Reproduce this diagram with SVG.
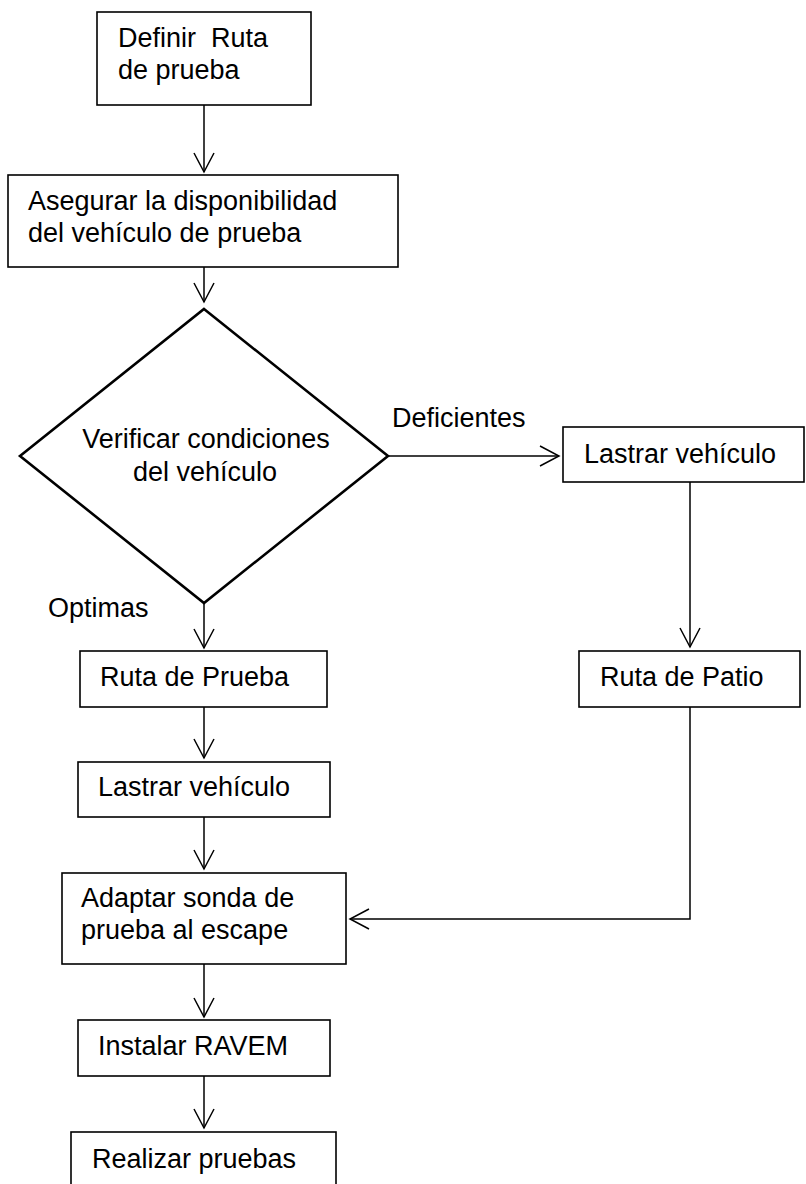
<svg xmlns="http://www.w3.org/2000/svg" width="806" height="1184" viewBox="0 0 806 1184">
<defs>
<style>
.box{fill:#fff;stroke:#000;stroke-width:1.6}
.dia{fill:#fff;stroke:#000;stroke-width:2.6}
.t{font-family:"Liberation Sans",Arial,Helvetica,sans-serif;font-size:27px;fill:#000}
.c{fill:none;stroke:#000;stroke-width:1.5}
</style>
<marker id="arr" viewBox="0 0 22 22" refX="20" refY="11" markerWidth="22" markerHeight="22" markerUnits="userSpaceOnUse" orient="auto">
<path d="M1,1 L20,11 L1,21" fill="none" stroke="#000" stroke-width="1.5"/>
</marker>
</defs>
<rect width="806" height="1184" fill="#fff"/>
<g id="connectors">
<line class="c" x1="204" y1="105" x2="204" y2="172" marker-end="url(#arr)"/>
<line class="c" x1="204" y1="267" x2="204" y2="302" marker-end="url(#arr)"/>
<line class="c" x1="388" y1="456" x2="559" y2="456" marker-end="url(#arr)"/>
<line class="c" x1="204" y1="603" x2="204" y2="648" marker-end="url(#arr)"/>
<line class="c" x1="690" y1="482" x2="690" y2="647" marker-end="url(#arr)"/>
<line class="c" x1="204" y1="707" x2="204" y2="758" marker-end="url(#arr)"/>
<line class="c" x1="204" y1="817" x2="204" y2="869" marker-end="url(#arr)"/>
<polyline class="c" points="690,707 690,919 350,919" marker-end="url(#arr)"/>
<line class="c" x1="204" y1="964" x2="204" y2="1017" marker-end="url(#arr)"/>
<line class="c" x1="204" y1="1076" x2="204" y2="1128" marker-end="url(#arr)"/>
<text class="t" x="392" y="427">Deficientes</text>
<text class="t" x="48" y="617">Optimas</text>
</g>
<g id="n1">
<rect class="box" x="97" y="12" width="214" height="93"/>
<text class="t" x="118" y="47" xml:space="preserve">Definir  Ruta</text>
<text class="t" x="118" y="79">de prueba</text>
</g>
<g id="n2">
<rect class="box" x="8" y="175" width="390" height="92"/>
<text class="t" x="28" y="210">Asegurar la disponibilidad</text>
<text class="t" x="28" y="242">del vehículo de prueba</text>
</g>
<g id="n3">
<polygon class="dia" points="204,309 388,456 204,603 20,456"/>
<text class="t" x="206" y="448" text-anchor="middle">Verificar condiciones</text>
<text class="t" x="205" y="481" text-anchor="middle">del vehículo</text>
</g>
<g id="n4">
<rect class="box" x="563" y="427" width="241" height="55"/>
<text class="t" x="584" y="463">Lastrar vehículo</text>
</g>
<g id="n5">
<rect class="box" x="80" y="651" width="247" height="56"/>
<text class="t" x="100" y="686">Ruta de Prueba</text>
</g>
<g id="n6">
<rect class="box" x="579" y="651" width="221" height="56"/>
<text class="t" x="600" y="686">Ruta de Patio</text>
</g>
<g id="n7">
<rect class="box" x="78" y="762" width="252" height="55"/>
<text class="t" x="98" y="796">Lastrar vehículo</text>
</g>
<g id="n8">
<rect class="box" x="62" y="873" width="284" height="91"/>
<text class="t" x="81" y="907">Adaptar sonda de</text>
<text class="t" x="81" y="939">prueba al escape</text>
</g>
<g id="n9">
<rect class="box" x="78" y="1020" width="252" height="56"/>
<text class="t" x="98" y="1055">Instalar RAVEM</text>
</g>
<g id="n10">
<rect class="box" x="71" y="1132" width="265" height="60"/>
<text class="t" x="92" y="1168">Realizar pruebas</text>
</g>
</svg>
